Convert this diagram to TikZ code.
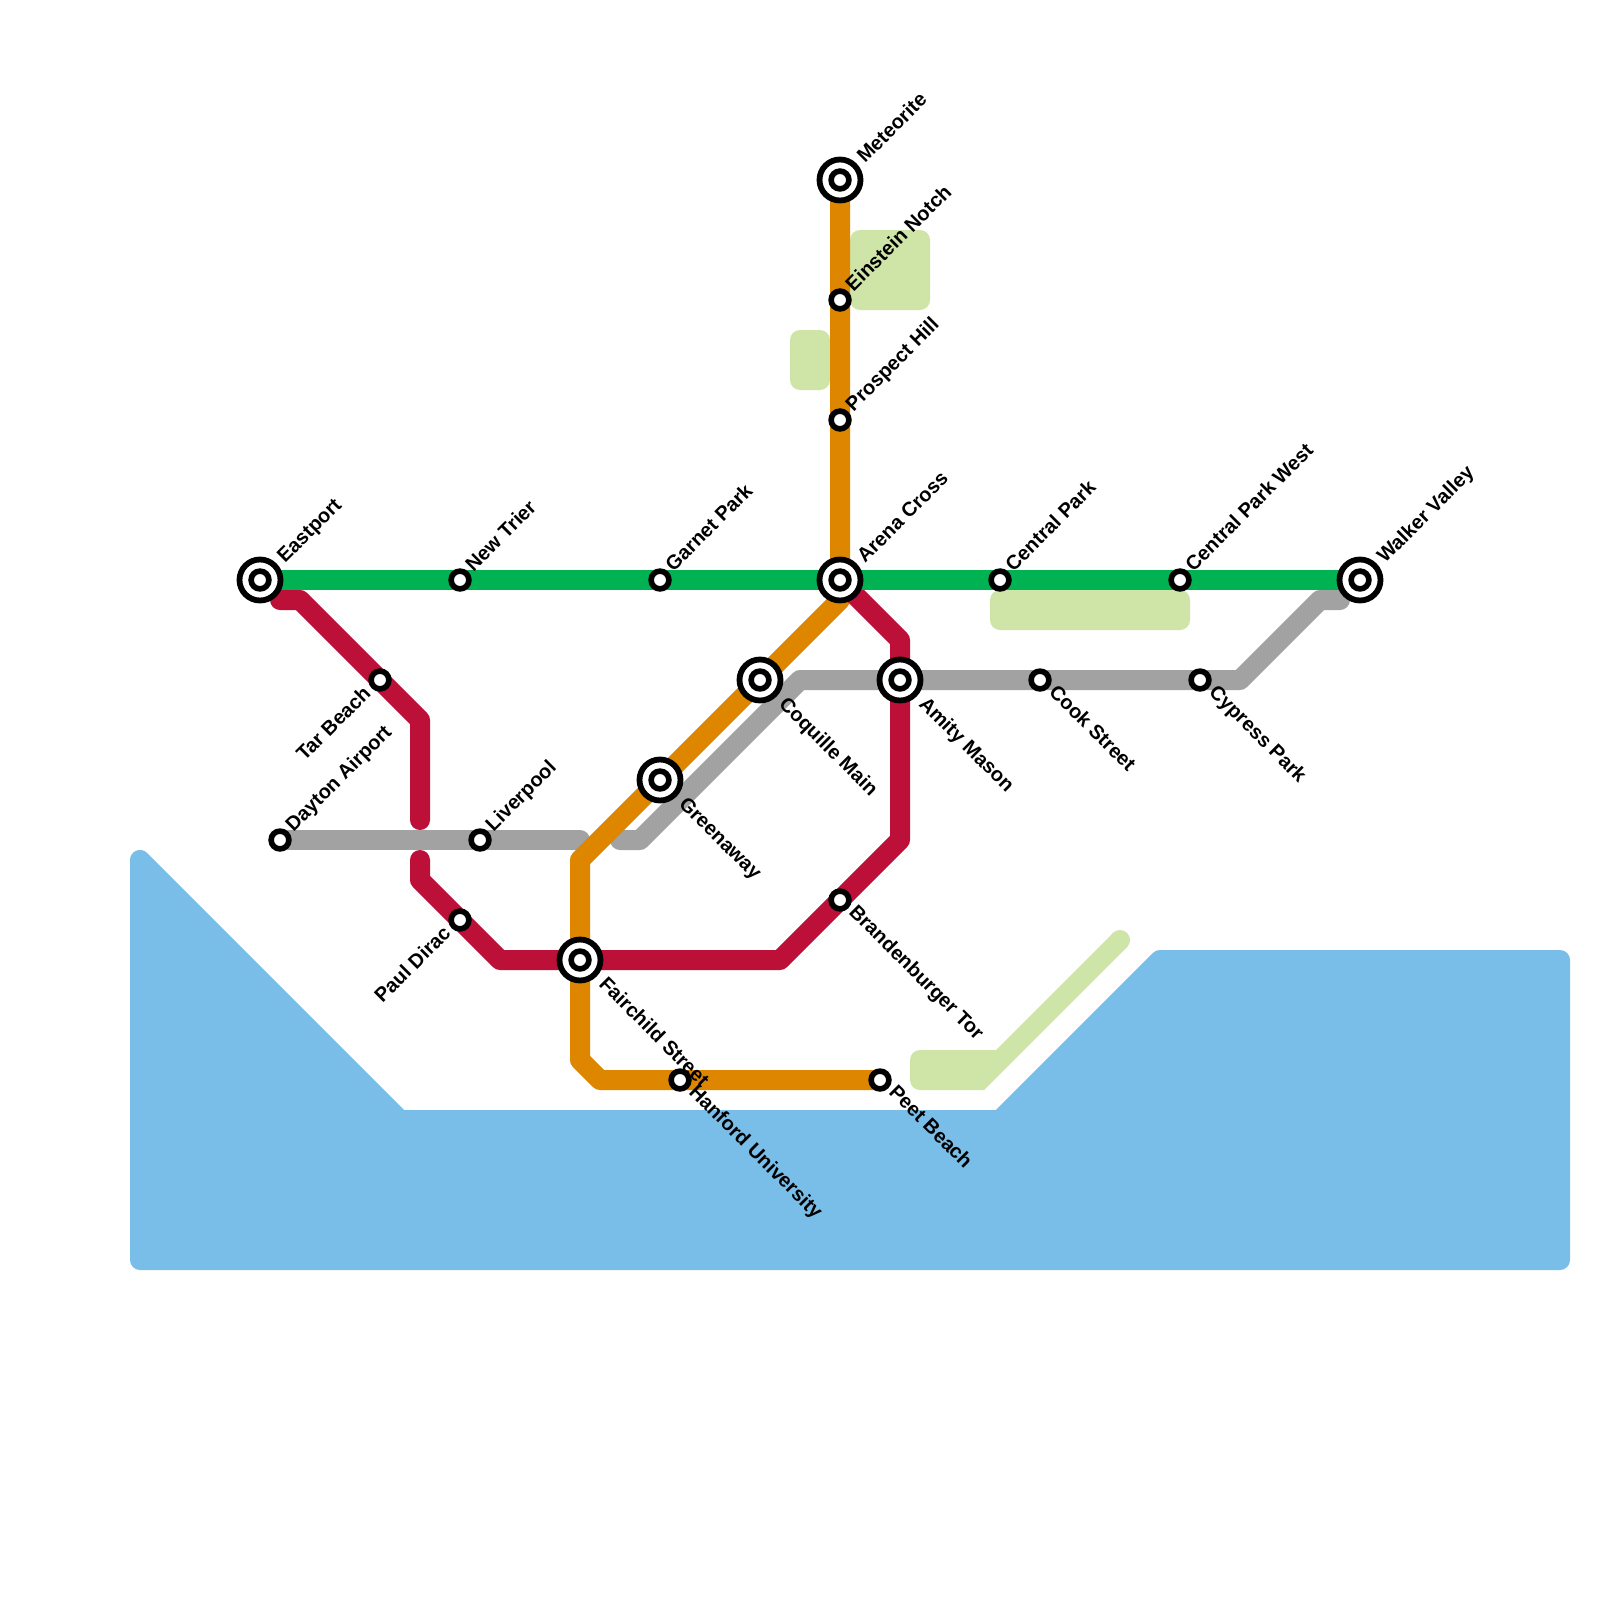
\documentclass[tikz,border=0pt]{standalone}
\usepackage{fontspec}
\setmainfont{Liberation Sans}
\usetikzlibrary{backgrounds}
\definecolor{mwater}{HTML}{79BDE9}
\definecolor{mpark}{HTML}{CFE4A7}
\definecolor{mgreen}{HTML}{00B251}
\definecolor{mred}{HTML}{BD1038}
\definecolor{morange}{HTML}{DF8600}
\definecolor{mgrey}{HTML}{A2A2A2}
\tikzset{
  plainstop/.style={circle,draw=black,fill=white,line width=5.6pt,minimum size=17.8pt,inner sep=0pt},
  hubstop/.style={circle,draw=black,fill=white,line width=5.8pt,minimum size=41pt,inner sep=0pt},
  route/.style={line width=20pt,line join=round,line cap=round},
  lab/.style={inner sep=0pt,font=\bfseries\fontsize{20}{22}\selectfont,text=black},
  nelab/.style={lab,rotate=45,anchor=base west},
  selab/.style={lab,rotate=-45,anchor=base west},
  swlab/.style={lab,rotate=45,anchor=base east},
}
\newcommand{\plainst}[2]{\node[plainstop] (#1) at (#2) {};}
\newcommand{\hubst}[2]{\node[hubstop] (#1) at (#2) {};\node[plainstop] (#1c) at (#2) {};}
\begin{document}
\begin{tikzpicture}[x=1pt,y=-1pt]
\useasboundingbox (0,0) rectangle (1600,1600);
% stations
\hubst{eastport}{260,580}
\plainst{newtrier}{460,580}
\plainst{garnet}{660,580}
\hubst{arena}{840,580}
\plainst{central}{1000,580}
\plainst{centralw}{1180,580}
\hubst{walker}{1360,580}
\hubst{meteorite}{840,180}
\plainst{einstein}{840,300}
\plainst{prospect}{840,420}
\hubst{coquille}{760,680}
\hubst{greenaway}{660,780}
\hubst{amity}{900,680}
\plainst{cook}{1040,680}
\plainst{cypress}{1200,680}
\plainst{dayton}{280,840}
\plainst{liverpool}{480,840}
\plainst{tar}{380,680}
\plainst{paul}{460,920}
\hubst{fairchild}{580,960}
\plainst{brandenburger}{840,900}
\plainst{hanford}{680,1080}
\plainst{peet}{880,1080}
% bends
\coordinate (r1) at (280,600);
\coordinate (r2) at (300,600);
\coordinate (r3) at (420,720);
\coordinate (r4) at (420,820);
\coordinate (r5) at (420,860);
\coordinate (r6) at (420,880);
\coordinate (r7) at (500,960);
\coordinate (r8) at (780,960);
\coordinate (r9) at (900,840);
\coordinate (r10) at (900,640);
\coordinate (o1) at (840,600);
\coordinate (o2) at (580,860);
\coordinate (o3) at (580,1060);
\coordinate (o4) at (600,1080);
\coordinate (g1) at (580,840);
\coordinate (g2) at (620,840);
\coordinate (g3) at (640,840);
\coordinate (g4) at (800,680);
\coordinate (g5) at (1240,680);
\coordinate (g6) at (1320,600);
\coordinate (g7) at (1340,600);
\begin{pgfonlayer}{background}
\fill[white] (0,0) rectangle (1600,1600);
% water
\filldraw[fill=mwater,draw=mwater,line width=20pt,line join=round]
  (140,860) -- (400,1120) -- (1000,1120) -- (1160,960) -- (1560,960) -- (1560,1260) -- (140,1260) -- cycle;
% parks
\fill[mpark,rounded corners=10pt] (850,230) rectangle (930,310);
\fill[mpark,rounded corners=10pt] (790,330) rectangle (830,390);
\fill[mpark,rounded corners=10pt] (990,590) rectangle (1190,630);
\fill[mpark,rounded corners=10pt] (950,1050) -- (910,1050) -- (910,1090) -- (950,1090) [sharp corners] -- (984,1090) -- (1127,947) -- (1113,933) -- (996,1050) -- cycle;
\fill[mpark] (1120,940) circle[radius=10pt];
% routes
\draw[route,mgrey] (dayton.center) -- (liverpool.center) -- (g1);
\draw[route,mgrey] (g2) -- (g3) -- (g4) -- (amity.center) -- (cook.center) -- (cypress.center) -- (g5) -- (g6) -- (g7);
\draw[route,morange] (meteorite.center) -- (einstein.center) -- (prospect.center) -- (arena.center) -- (o1) -- (coquille.center) -- (greenaway.center) -- (o2) -- (fairchild.center) -- (o3) -- (o4) -- (hanford.center) -- (peet.center);
\draw[route,mred] (r1) -- (r2) -- (tar.center) -- (r3) -- (r4);
\draw[route,mred] (r5) -- (r6) -- (paul.center) -- (r7) -- (fairchild.center) -- (r8) -- (brandenburger.center) -- (r9) -- (amity.center) -- (r10) -- (arena.center);
\draw[route,mgreen,line cap=butt] (eastport.center) -- (newtrier.center) -- (garnet.center) -- (arena.center) -- (central.center) -- (centralw.center) -- (walker.center);
\end{pgfonlayer}
% labels
\node[nelab] (eastportl) at ([shift={(25,-16)}]eastport.center) {Eastport};
\node[nelab] (newtrierl) at ([shift={(13.5,-7.5)}]newtrier.center) {New Trier};
\node[nelab] (garnetl) at ([shift={(13.5,-7.5)}]garnet.center) {Garnet Park};
\node[nelab] (arenal) at ([shift={(25,-16)}]arena.center) {Arena Cross};
\node[nelab] (centrall) at ([shift={(13.5,-7.5)}]central.center) {Central Park};
\node[nelab] (centralwl) at ([shift={(13.5,-7.5)}]centralw.center) {Central Park West};
\node[nelab] (walkerl) at ([shift={(25,-16)}]walker.center) {Walker Valley};
\node[nelab] (meteoritel) at ([shift={(25,-16)}]meteorite.center) {Meteorite};
\node[nelab] (einsteinl) at ([shift={(13.5,-7.5)}]einstein.center) {Einstein Notch};
\node[nelab] (prospectl) at ([shift={(13.5,-7.5)}]prospect.center) {Prospect Hill};
\node[nelab] (daytonl) at ([shift={(13.5,-7.5)}]dayton.center) {Dayton Airport};
\node[nelab] (liverpooll) at ([shift={(13.5,-7.5)}]liverpool.center) {Liverpool};
\node[swlab] (tarl) at ([shift={(-8,14.5)}]tar.center) {Tar Beach};
\node[swlab] (paull) at ([shift={(-8,14.5)}]paul.center) {Paul Dirac};
\node[selab] (coquillel) at ([shift={(18,25)}]coquille.center) {Coquille Main};
\node[selab] (greenawayl) at ([shift={(18,25)}]greenaway.center) {Greenaway};
\node[selab] (amityl) at ([shift={(18,25)}]amity.center) {Amity Mason};
\node[selab] (fairchildl) at ([shift={(18,25)}]fairchild.center) {Fairchild Street};
\node[selab] (cookl) at ([shift={(8,13)}]cook.center) {Cook Street};
\node[selab] (cypressl) at ([shift={(8,13)}]cypress.center) {Cypress Park};
\node[selab] (brandenburgerl) at ([shift={(8,13)}]brandenburger.center) {Brandenburger Tor};
\node[selab] (hanfordl) at ([shift={(8,13)}]hanford.center) {Hanford University};
\node[selab] (peetl) at ([shift={(8,13)}]peet.center) {Peet Beach};
\end{tikzpicture}
\end{document}
